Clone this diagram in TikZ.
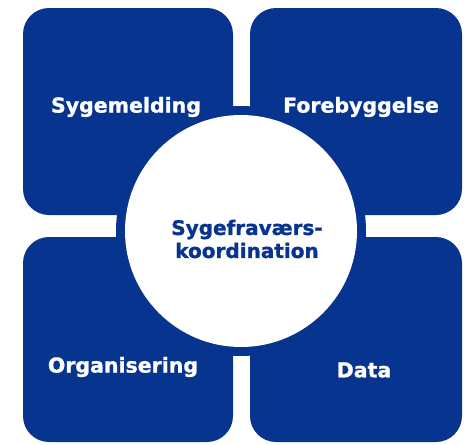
\documentclass[tikz,border=0pt]{standalone}
\usepackage{fontspec}
\setmainfont{DejaVu Sans}[BoldFeatures={FakeBold=1.2}]
\definecolor{navy}{RGB}{6,52,143}
\begin{document}
\begin{tikzpicture}[x=1pt,y=-1pt,
  tile/.style={fill=navy,draw=none,rounded corners=26pt},
  tilelabel/.style={text=white,font=\bfseries\fontsize{20.5}{23}\selectfont},
  hublabel/.style={text=navy,font=\bfseries\fontsize{20}{23}\selectfont,align=center}]
  \useasboundingbox (0,0) rectangle (475,445);
  % four quadrant tiles
  \path[tile] (23,8) rectangle (233,215);
  \path[tile] (250,8) rectangle (462,215);
  \path[tile] (23,237) rectangle (233,442);
  \path[tile] (250,237) rectangle (462,442);
  % blue ring and white hub
  \fill[navy] (241,231) circle (125);
  \fill[white] (241,231) circle (116);
  % labels
  \node[tilelabel] (sm) at (126,107) {Sygemelding};
  \node[tilelabel] (fb) at (361,107) {Forebyggelse};
  \node[tilelabel] (org) at (123,367) {Organisering};
  \node[tilelabel] (dt) at (364,370) {Data};
  \node[hublabel] (hub) at (247,239) {Sygefraværs-\\koordination};
\end{tikzpicture}
\end{document}
